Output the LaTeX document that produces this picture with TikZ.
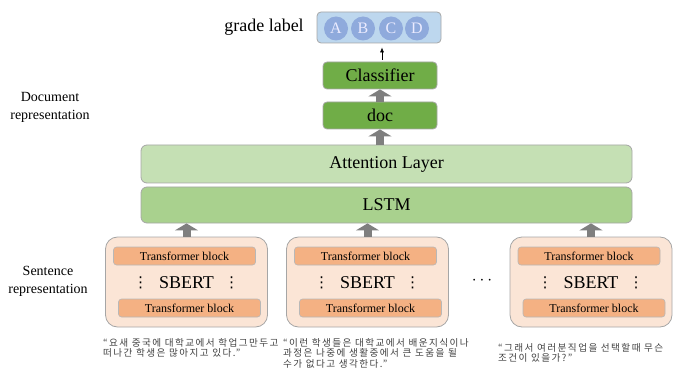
\documentclass[tikz,border=0pt]{standalone}
\usepackage{fontspec}
\setmainfont{Liberation Serif}
\newfontfamily\serifx{Liberation Serif}
\newfontfamily\dejavu{DejaVu Sans}
\newfontfamily\krfont[LetterSpace=15]{Noto Sans CJK KR}
\usetikzlibrary{arrows.meta}
\definecolor{clsgreen}{HTML}{70AD47}
\definecolor{attgreen}{HTML}{C5E0B4}
\definecolor{lstmgreen}{HTML}{A9D18E}
\definecolor{peach}{HTML}{FBE5D6}
\definecolor{orangeblk}{HTML}{F4B183}
\definecolor{lblue}{HTML}{BDD7EE}
\definecolor{cblue}{HTML}{8FAADC}
\definecolor{arrgray}{HTML}{7F7F7F}
\definecolor{bordergray}{HTML}{A6A6A6}
\begin{document}
\begin{tikzpicture}[x=1pt,y=-1pt,
  smallbox/.style={draw=bordergray, line width=0.8pt, fill=clsgreen, rounded corners=4pt,
    minimum width=114pt, minimum height=27pt, inner sep=0pt, font=\serifx\fontsize{18}{20}\selectfont},
  layerbox/.style={draw=bordergray, line width=0.8pt, rounded corners=6pt,
    minimum width=491pt, minimum height=37pt, inner sep=0pt, font=\serifx\fontsize{18}{20}\selectfont},
  sbertbox/.style={draw=bordergray, line width=0.8pt, fill=peach, rounded corners=12pt,
    minimum width=162pt, minimum height=90pt, inner sep=0pt},
  tblock/.style={draw=bordergray!80, line width=0.6pt, fill=orangeblk, rounded corners=3pt,
    minimum width=142pt, minimum height=18pt, inner sep=0pt, font=\serifx\fontsize{12}{14}\selectfont},
  sberttext/.style={font=\serifx\fontsize{18}{20}\selectfont, inner sep=0pt},
  vdotstext/.style={font=\dejavu\fontsize{15}{16}\selectfont, inner sep=0pt},
  sidelabel/.style={align=center, font=\serifx\fontsize{14}{18}\selectfont, inner sep=0pt},
  krtext/.style={anchor=north west, align=left, inner sep=0pt, text=black!75,
    font=\krfont\fontsize{9.6}{10.6}\selectfont},
  circ/.style={circle, fill=cblue, minimum size=24pt, inner sep=0pt, text=white!92!blue,
    font=\serifx\fontsize{16}{18}\selectfont},
  bigarrow/.style={draw=arrgray, line width=8pt, -{Triangle[width=23pt,length=7pt]}, arrgray},
  thinarrow/.style={draw=black, line width=0.6pt, -{Latex[length=5pt,width=4pt]}}
]
\useasboundingbox (0,0) rectangle (674,374);

% top: grade label
\node[draw=bordergray, line width=0.8pt, fill=lblue, rounded corners=4pt,
  minimum width=124pt, minimum height=31pt, inner sep=0pt] (grade) at (379,27.5) {};
\node[circ] (cA) at (336,28.5) {A};
\node[circ] (cB) at (363,28.5) {B};
\node[circ] (cC) at (391,28.5) {C};
\node[circ] (cD) at (417,28.5) {D};
\node[font=\serifx\fontsize{18}{20}\selectfont, inner sep=0pt] (glabel) at (264,27) {grade label};

% classifier and doc
\node[smallbox] (cls) at (380,75.5) {Classifier};
\node[smallbox] (doc) at (380,115.5) {doc};

% layers
\node[layerbox, fill=attgreen, minimum height=38pt] (att) at (386.5,164) {Attention Layer};
\node[layerbox, fill=lstmgreen, minimum height=36pt] (lstm) at (386.5,205) {LSTM};

% SBERT boxes
\foreach \n/\cx in {b1/186.5, b2/367.5, b3/591} {
  \node[sbertbox] (\n) at (\cx,282) {};
  \node[tblock] (\n top) at (\cx-2,256) {Transformer block};
  \node[tblock] (\n bot) at (\cx+3,308) {Transformer block};
  \node[sberttext] (\n s) at (\cx,283) {SBERT};
  \node[vdotstext] (\n l) at (\cx-46,283) {⋮};
  \node[vdotstext] (\n r) at (\cx+45,283) {⋮};
}
\node[font=\serifx\fontsize{16}{18}\selectfont, inner sep=0pt] (ell) at (482,281) {$\cdots$};

% side labels
\node[sidelabel] (doclab) at (50,107) {Document\\representation};
\node[sidelabel] (sentlab) at (48,281.5) {Sentence\\representation};

% Korean sentences
\node[krtext] (k1) at (103,338) {“요새 중국에 대학교에서 학업그만두고\\떠나간 학생은 많아지고 있다.”};
\node[krtext] (k2) at (283,338) {“이런 학생들은 대학교에서 배운지식이나\\과정은 나중에 생활중에서 큰 도움을 될\\수가 없다고 생각한다.”};
\node[krtext] (k3) at (498,343) {“그래서 여러분직업을 선택할때 무슨\\조건이 있을가?”};

% arrows
\draw[bigarrow] (doc.north) -- (cls.south);
\draw[bigarrow] (att.north -| doc.south) -- (doc.south);
\foreach \n in {b1,b2,b3} {
  \draw[bigarrow] (\n.north) -- (\n.north |- lstm.south);
}
\draw[thinarrow, shorten <=2pt, shorten >=4pt] ([xshift=2pt]cls.north) -- ([xshift=3pt]grade.south);
\end{tikzpicture}
\end{document}
